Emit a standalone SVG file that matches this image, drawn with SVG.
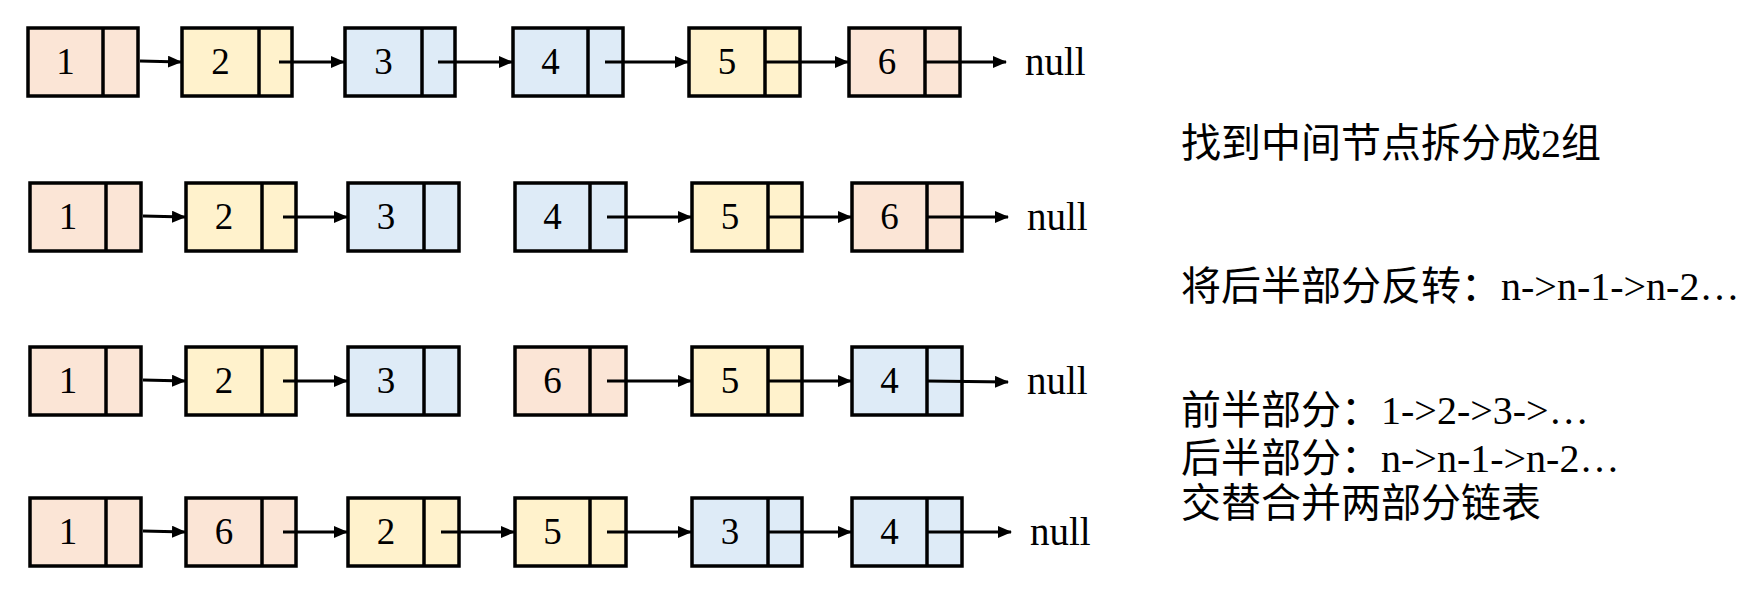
<svg xmlns="http://www.w3.org/2000/svg" width="1764" height="590" viewBox="0 0 1764 590">
<style>
.box{stroke:#000;stroke-width:3.5}
.p{fill:#FBE5D6}.y{fill:#FFF2CC}.b{fill:#DEEBF7}
.div{stroke:#000;stroke-width:3.5}
.num{font-family:"Liberation Serif",serif;font-size:37px;text-anchor:middle;fill:#000}
.null{font-family:"Liberation Serif",serif;font-size:39px;fill:#000}
.note{font-family:"Liberation Serif","Noto Sans CJK SC",serif;font-size:40px;fill:#000}
.arr{stroke:#000;stroke-width:3;fill:none;marker-end:url(#ah)}
</style>
<defs>
<marker id="ah" markerUnits="userSpaceOnUse" markerWidth="14" markerHeight="12" refX="13" refY="6" orient="auto">
<path d="M0,0 L14,6 L0,12 z" fill="#000"/>
</marker>
</defs>
<rect width="1764" height="590" fill="#fff"/>

<!-- Row 1 -->
<g id="r1n1"><rect class="box p" x="28" y="28" width="110" height="68"/><line class="div" x1="103" y1="28" x2="103" y2="96"/><text class="num" x="65.5" y="74">1</text></g>
<g id="r1n2"><rect class="box y" x="182" y="28" width="110" height="68"/><line class="div" x1="259" y1="28" x2="259" y2="96"/><text class="num" x="220.5" y="74">2</text></g>
<g id="r1n3"><rect class="box b" x="345" y="28" width="110" height="68"/><line class="div" x1="422" y1="28" x2="422" y2="96"/><text class="num" x="383.5" y="74">3</text></g>
<g id="r1n4"><rect class="box b" x="513" y="28" width="110" height="68"/><line class="div" x1="588" y1="28" x2="588" y2="96"/><text class="num" x="550.5" y="74">4</text></g>
<g id="r1n5"><rect class="box y" x="689" y="28" width="111" height="68"/><line class="div" x1="765" y1="28" x2="765" y2="96"/><text class="num" x="727" y="74">5</text></g>
<g id="r1n6"><rect class="box p" x="849" y="28" width="111" height="68"/><line class="div" x1="925" y1="28" x2="925" y2="96"/><text class="num" x="887" y="74">6</text></g>
<text class="null" x="1025" y="75">null</text>

<!-- Row 2 -->
<g id="r2n1"><rect class="box p" x="30" y="183" width="111" height="68"/><line class="div" x1="106" y1="183" x2="106" y2="251"/><text class="num" x="68" y="229">1</text></g>
<g id="r2n2"><rect class="box y" x="186" y="183" width="110" height="68"/><line class="div" x1="262" y1="183" x2="262" y2="251"/><text class="num" x="224" y="229">2</text></g>
<g id="r2n3"><rect class="box b" x="348" y="183" width="111" height="68"/><line class="div" x1="424" y1="183" x2="424" y2="251"/><text class="num" x="386" y="229">3</text></g>
<g id="r2n4"><rect class="box b" x="515" y="183" width="111" height="68"/><line class="div" x1="590" y1="183" x2="590" y2="251"/><text class="num" x="552.5" y="229">4</text></g>
<g id="r2n5"><rect class="box y" x="692" y="183" width="110" height="68"/><line class="div" x1="768" y1="183" x2="768" y2="251"/><text class="num" x="730" y="229">5</text></g>
<g id="r2n6"><rect class="box p" x="852" y="183" width="110" height="68"/><line class="div" x1="927" y1="183" x2="927" y2="251"/><text class="num" x="889.5" y="229">6</text></g>
<text class="null" x="1027" y="230">null</text>

<!-- Row 3 -->
<g id="r3n1"><rect class="box p" x="30" y="347" width="111" height="68"/><line class="div" x1="106" y1="347" x2="106" y2="415"/><text class="num" x="68" y="393">1</text></g>
<g id="r3n2"><rect class="box y" x="186" y="347" width="110" height="68"/><line class="div" x1="262" y1="347" x2="262" y2="415"/><text class="num" x="224" y="393">2</text></g>
<g id="r3n3"><rect class="box b" x="348" y="347" width="111" height="68"/><line class="div" x1="424" y1="347" x2="424" y2="415"/><text class="num" x="386" y="393">3</text></g>
<g id="r3n6"><rect class="box p" x="515" y="347" width="111" height="68"/><line class="div" x1="590" y1="347" x2="590" y2="415"/><text class="num" x="552.5" y="393">6</text></g>
<g id="r3n5"><rect class="box y" x="692" y="347" width="110" height="68"/><line class="div" x1="768" y1="347" x2="768" y2="415"/><text class="num" x="730" y="393">5</text></g>
<g id="r3n4"><rect class="box b" x="852" y="347" width="110" height="68"/><line class="div" x1="927" y1="347" x2="927" y2="415"/><text class="num" x="889.5" y="393">4</text></g>
<text class="null" x="1027" y="394">null</text>

<!-- Row 4 -->
<g id="r4n1"><rect class="box p" x="30" y="498" width="111" height="68"/><line class="div" x1="106" y1="498" x2="106" y2="566"/><text class="num" x="68" y="544">1</text></g>
<g id="r4n6"><rect class="box p" x="186" y="498" width="110" height="68"/><line class="div" x1="262" y1="498" x2="262" y2="566"/><text class="num" x="224" y="544">6</text></g>
<g id="r4n2"><rect class="box y" x="348" y="498" width="111" height="68"/><line class="div" x1="424" y1="498" x2="424" y2="566"/><text class="num" x="386" y="544">2</text></g>
<g id="r4n5"><rect class="box y" x="515" y="498" width="111" height="68"/><line class="div" x1="590" y1="498" x2="590" y2="566"/><text class="num" x="552.5" y="544">5</text></g>
<g id="r4n3"><rect class="box b" x="692" y="498" width="110" height="68"/><line class="div" x1="768" y1="498" x2="768" y2="566"/><text class="num" x="730" y="544">3</text></g>
<g id="r4n4"><rect class="box b" x="852" y="498" width="110" height="68"/><line class="div" x1="927" y1="498" x2="927" y2="566"/><text class="num" x="889.5" y="544">4</text></g>
<text class="null" x="1030" y="545">null</text>

<g id="connectors">
<line class="arr" x1="140" y1="61" x2="181" y2="62"/>
<line class="arr" x1="279" y1="62" x2="344" y2="62"/>
<line class="arr" x1="438" y1="62" x2="512" y2="62"/>
<line class="arr" x1="605" y1="62" x2="688" y2="62"/>
<line class="arr" x1="765" y1="62" x2="848" y2="62"/>
<line class="arr" x1="925" y1="62" x2="1006" y2="62"/>

<line class="arr" x1="143" y1="216" x2="185" y2="217"/>
<line class="arr" x1="283" y1="217" x2="347" y2="217"/>
<line class="arr" x1="607" y1="217" x2="691" y2="217"/>
<line class="arr" x1="768" y1="217" x2="851" y2="217"/>
<line class="arr" x1="927" y1="217" x2="1008" y2="217"/>

<line class="arr" x1="143" y1="380" x2="185" y2="381"/>
<line class="arr" x1="283" y1="381" x2="347" y2="381"/>
<line class="arr" x1="607" y1="381" x2="691" y2="381"/>
<line class="arr" x1="768" y1="381" x2="851" y2="381"/>
<line class="arr" x1="927" y1="381" x2="1008" y2="382"/>

<line class="arr" x1="143" y1="531" x2="185" y2="532"/>
<line class="arr" x1="283" y1="532" x2="347" y2="532"/>
<line class="arr" x1="441" y1="532" x2="514" y2="532"/>
<line class="arr" x1="607" y1="532" x2="691" y2="532"/>
<line class="arr" x1="768" y1="532" x2="851" y2="532"/>
<line class="arr" x1="927" y1="532" x2="1011" y2="532"/>
</g>

<g id="notes">
<text class="note" x="1181" y="157">找到中间节点拆分成2组</text>
<text class="note" x="1181" y="300">将后半部分反转：n-&gt;n-1-&gt;n-2…</text>
<text class="note" x="1181" y="424">前半部分：1-&gt;2-&gt;3-&gt;…</text>
<text class="note" x="1181" y="472">后半部分：n-&gt;n-1-&gt;n-2…</text>
<text class="note" x="1181" y="517">交替合并两部分链表</text>
</g>
</svg>
